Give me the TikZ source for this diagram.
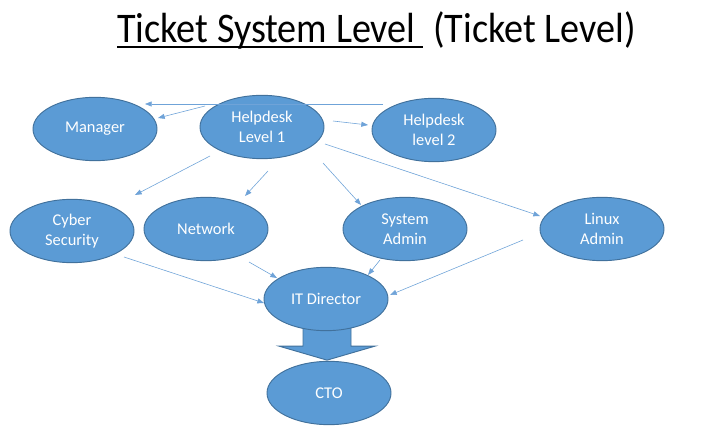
\documentclass[tikz,border=0pt]{standalone}
\usepackage{fontspec}
\setmainfont{Carlito}
\usetikzlibrary{arrows.meta, positioning, calc, shapes.geometric, backgrounds}
\definecolor{boxblue}{HTML}{5B9BD5}
\definecolor{boxedge}{HTML}{41719C}
\definecolor{linkblue}{HTML}{6FA3D8}
\newcommand{\ttlfont}{\fontsize{36}{40}\selectfont}
\newcommand{\narrow}[1]{\scalebox{0.905}[1]{#1}}

\begin{document}
\begin{tikzpicture}[x=0.03cm, y=-0.03cm, >={Triangle[length=2mm, width=1.5mm]},
  role/.style={ellipse, draw=boxedge, fill=boxblue, line width=0.8pt,
    minimum width=3.72cm, minimum height=1.9cm, inner sep=0pt,
    text=white, align=center, font=\fontsize{14}{17}\selectfont},
  link/.style={->, draw=linkblue, line width=0.5pt}]
  \useasboundingbox (0,0) rectangle (707,433);
  % title
  \node[anchor=base west, inner sep=0pt, font=\ttlfont] (ttl) at (117,43) {\narrow{Ticket System Level\kern0.2em}};
  \node[anchor=base west, inner sep=0pt, font=\ttlfont] (sub) at (433,43) {\narrow{(Ticket Level)}};
  \draw[line width=1.6pt] ([yshift=-3.5pt]ttl.base west) -- ([yshift=-3.5pt]ttl.base east);

  % roles
  \node[role] (mgr) at (95,129) {Manager};
  \node[role] (hd1) at (262,127) {Helpdesk\\Level 1};
  \node[role] (hd2) at (434,130) {Helpdesk\\level 2};
  \node[role] (cyb) at (72,231) {Cyber\\Security};
  \node[role] (net) at (206,229) {Network};
  \node[role] (sys) at (405,229) {System\\Admin};
  \node[role] (lnx) at (602,229) {Linux\\Admin};
  \node[role] (itd) at (326,299) {IT Director};
  \node[role] (cto) at (329,393) {CTO};

  % escalation to CTO
  \begin{scope}[on background layer]
    \draw[fill=boxblue, draw=boxedge, line width=0.8pt]
      ($(itd.south)+(-23,-6)$) -- ($(itd.south)+(-23,15)$) -- ($(itd.south)+(-47,15)$)
      -- ($(itd.south)+(1,29)$) -- ($(itd.south)+(49,15)$) -- ($(itd.south)+(25,15)$)
      -- ($(itd.south)+(25,-6)$) -- cycle;
  \end{scope}

  % links
  \draw[link] ($(hd2)+(-51,-26)$) -- ($(mgr)+(50,-25)$);
  \draw[link] ($(hd1)+(-57,-21)$) -- ($(mgr)+(63,-11)$);
  \draw[link] ($(hd1)+(71,-6)$) -- ($(hd2)+(-66,-5)$);
  \draw[link] ($(hd1)+(-52,29)$) -- ($(cyb)+(63,-36)$);
  \draw[link] ($(hd1)+(6,44)$) -- ($(net)+(39,-33)$);
  \draw[link] ($(hd1)+(61,36)$) -- ($(sys)+(-44,-24)$);
  \draw[link] ($(hd1)+(63,17)$) -- ($(lnx)+(-62,-13)$);
  \draw[link] ($(cyb)+(52,26)$) -- ($(itd)+(-62,4)$);
  \draw[link] ($(net)+(43,33)$) -- ($(itd)+(-49,-21)$);
  \draw[link] ($(sys)+(-25,31)$) -- ($(itd)+(42,-24)$);
  \draw[link] ($(lnx)+(-79,11)$) -- ($(itd)+(64,-4)$);
\end{tikzpicture}
\end{document}
